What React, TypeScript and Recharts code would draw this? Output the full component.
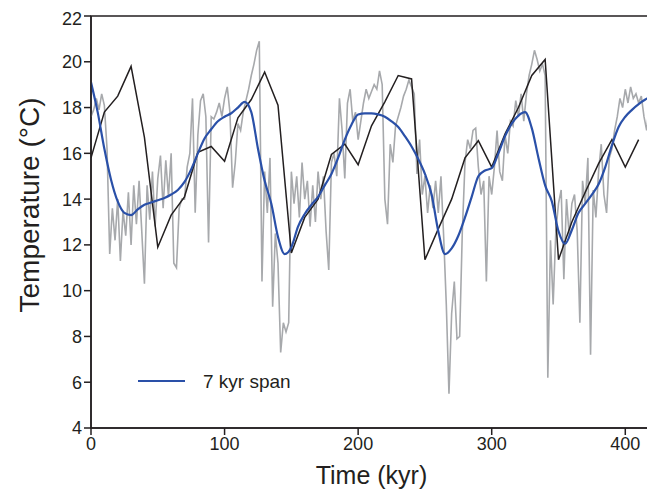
import { LineChart, Line, XAxis, YAxis, ReferenceArea, Legend } from "recharts";

// high-resolution record, one value every 2 kyr from 0 to 420
const grayStep = 2;
const grayTemp = [
  17.6, 17.9, 18.4, 17.9, 18.6, 18.1, 16.2, 11.6, 13.6, 12.2,
  14.0, 11.3, 13.5, 12.4, 14.3, 12.0, 14.6, 12.9, 14.8, 12.6,
  10.3, 14.6, 13.1, 15.2, 12.8, 14.9, 15.9, 13.6, 15.7, 14.1,
  16.0, 11.2, 11.0, 13.6, 14.0, 14.0, 15.4, 16.0, 18.4, 13.4,
  16.8, 18.3, 18.6, 17.6, 12.1, 17.6, 17.5, 17.8, 18.2, 17.6,
  18.4, 18.9, 17.8, 14.5, 15.6, 17.3, 17.0, 17.8, 18.3, 18.8,
  19.4, 19.9, 20.5, 20.9, 10.4, 15.2, 13.4, 15.8, 9.3, 12.5,
  11.2, 7.3, 8.6, 8.2, 8.6, 15.2, 13.8, 15.0, 13.2, 15.6,
  14.0, 14.8, 12.8, 14.6, 13.0, 15.2, 14.0, 15.0, 12.6, 10.9,
  15.6, 16.0, 15.0, 18.4, 17.0, 14.9, 18.2, 18.8, 17.4, 17.8,
  16.6, 17.4, 18.2, 18.8, 18.4, 18.7, 19.0, 18.8, 19.6, 19.0,
  14.0, 12.9, 16.4, 15.6, 17.2, 17.6, 18.0, 18.5, 18.8, 19.2,
  18.9, 18.6, 15.1, 16.6, 14.2, 15.0, 13.4, 14.6, 13.6, 14.8,
  13.4, 15.0, 12.4, 9.4, 5.5, 9.0, 10.4, 7.9, 8.0, 12.6,
  15.6, 16.6, 16.2, 17.0, 17.1, 15.4, 14.2, 14.8, 10.4, 15.0,
  14.2, 15.4, 17.0, 15.2, 14.8, 16.8, 16.0, 17.4, 17.2, 18.3,
  17.6, 18.6, 17.4, 18.6, 19.4, 19.9, 20.5, 20.1, 19.6, 19.9,
  19.4, 6.2, 12.2, 9.4, 12.6, 13.8, 14.4, 10.5, 14.0, 12.4,
  13.8, 14.2, 12.6, 8.6, 14.8, 13.8, 15.8, 7.2, 14.4, 13.2,
  15.2, 16.4, 14.2, 13.4, 15.8, 16.2, 17.0, 17.6, 18.4, 18.0,
  18.8, 18.2, 18.9, 18.4, 18.6, 18.2, 18.5, 17.6, 17.0, 18.2,
  18.4,
];

// coarse record
const blackTime = [
  0, 10, 20, 30, 40, 50, 60, 70, 80, 90, 100, 110, 120, 130, 140, 150, 160, 170, 180, 190, 200,
  210, 220, 230, 240, 250, 260, 270, 280, 290, 300, 310, 320, 330, 340, 350, 360, 370, 380, 390,
  400, 410,
];
const blackTemp = [
  15.8, 17.8, 18.5, 19.8, 16.7, 11.9, 13.3, 14.1, 16.05, 16.3, 15.65, 17.55, 18.35, 19.55, 18.1,
  11.65, 13.2, 14.0, 15.95, 16.4, 15.5, 17.2, 18.25, 19.4, 19.25, 11.35, 12.7, 14.0, 15.8, 16.55,
  15.4, 16.85, 18.0, 19.4, 20.1, 11.35, 13.0, 14.3, 15.55, 16.6, 15.4, 16.6,
];

// 7 kyr span smooth
const blueTime = [
  0, 5, 10, 15, 20, 25, 30, 35, 40, 45, 50, 55, 60, 65, 70, 75, 80, 85, 90, 95, 100, 105, 110,
  115, 120, 125, 130, 135, 140, 145, 150, 155, 160, 165, 170, 175, 180, 185, 190, 195, 200, 205,
  210, 215, 220, 225, 230, 235, 240, 245, 250, 255, 260, 265, 270, 275, 280, 285, 290, 295, 300,
  305, 310, 315, 320, 325, 330, 335, 340, 345, 350, 355, 360, 365, 370, 375, 380, 385, 390, 395,
  400, 405, 410, 415, 420,
];
const blueTemp = [
  19.1, 17.8, 16.2, 14.85, 13.9, 13.4, 13.3, 13.55, 13.75, 13.85, 13.95, 14.05, 14.2, 14.4,
  14.75, 15.3, 16.0, 16.65, 17.05, 17.4, 17.6, 17.75, 18.0, 18.25, 17.8, 16.2, 14.8, 13.8, 12.35,
  11.6, 11.9, 12.8, 13.35, 13.75, 14.1, 14.6, 15.1, 15.8, 16.6, 17.25, 17.7, 17.75, 17.75, 17.7,
  17.6, 17.4, 17.15, 16.75, 16.3, 15.75, 15.1, 14.2, 12.6, 11.6, 11.85, 12.4, 13.2, 14.1, 15.0,
  15.25, 15.35, 16.0, 16.75, 17.3, 17.65, 17.8, 17.1, 15.8, 14.6, 13.9, 12.6, 12.05, 12.65, 13.4,
  13.8, 14.2, 14.65, 15.4, 16.35, 17.15, 17.6, 17.9, 18.15, 18.35, 18.5,
];

const xTicks = [0, 100, 200, 300, 400];
const yTicks = [4, 6, 8, 10, 12, 14, 16, 18, 20, 22];

const grayData = grayTemp.map((v, i) => ({ t: i * grayStep, v }));
const blackData = blackTime.map((t, i) => ({ t, v: blackTemp[i] }));
const blueData = blueTime.map((t, i) => ({ t, v: blueTemp[i] }));

const ink = "#231f20";
const blue = "#2a50a8";
const font = "'Liberation Sans', Arial, Helvetica, sans-serif";

function LegendBox() {
  return (
    <svg width={180} height={30}>
      <line x1={0} x2={47} y1={15} y2={15} stroke={blue} strokeWidth={2.2} />
      <text x={65} y={22} fontSize={19} fill={ink} fontFamily={font}>
        7 kyr span
      </text>
    </svg>
  );
}

export default function App() {
  return (
    <LineChart
      width={647}
      height={486}
      margin={{ top: 8, right: 3, left: 0, bottom: 0 }}
      style={{ fontFamily: font }}
    >
      <XAxis
        dataKey="t"
        type="number"
        domain={[0, 420]}
        ticks={xTicks}
        allowDataOverflow
        height={66}
        stroke={ink}
        strokeWidth={1.5}
        tickSize={7}
        tick={{ fill: ink, fontSize: 18 }}
        label={{ value: "Time (kyr)", position: "insideBottom", offset: 10, fill: ink, fontSize: 25 }}
      />
      <YAxis
        type="number"
        domain={[4, 22]}
        ticks={yTicks}
        allowDataOverflow
        width={83}
        stroke={ink}
        strokeWidth={1.5}
        tickSize={7}
        tick={{ fill: ink, fontSize: 18 }}
        label={{
          value: "Temperature (°C)",
          angle: -90,
          position: "insideLeft",
          offset: 21,
          dy: -17,
          fill: ink,
          fontSize: 28,
          style: { textAnchor: "middle" },
        }}
      />
      <ReferenceArea x1={0} x2={420} y1={4} y2={22} fill="none" stroke={ink} strokeWidth={1.5} />
      <Line
        data={grayData}
        dataKey="v"
        type="linear"
        stroke="#a7a9ac"
        strokeWidth={1.6}
        dot={false}
        isAnimationActive={false}
      />
      <Line
        data={blackData}
        dataKey="v"
        type="linear"
        stroke={ink}
        strokeWidth={1.5}
        dot={false}
        isAnimationActive={false}
      />
      <Line
        data={blueData}
        dataKey="v"
        type="monotone"
        stroke={blue}
        strokeWidth={2.2}
        dot={false}
        isAnimationActive={false}
      />
      <Legend
        layout="horizontal"
        verticalAlign="middle"
        content={() => <LegendBox />}
        wrapperStyle={{ position: "absolute", left: 130, top: 358, width: 180 }}
      />
    </LineChart>
  );
}
